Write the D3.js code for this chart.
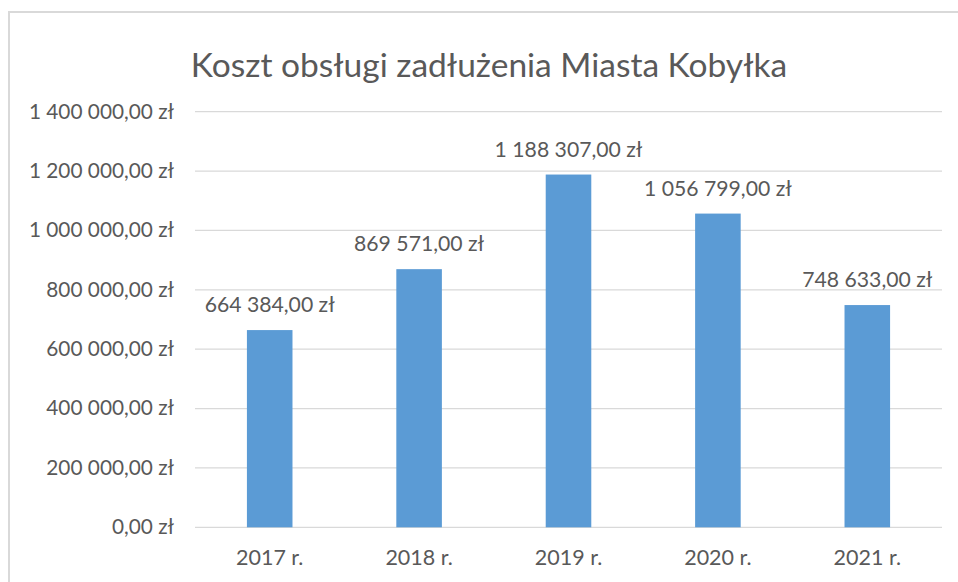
<!DOCTYPE html>
<html>
<head>
<meta charset="utf-8">
<script src="https://cdn.jsdelivr.net/npm/d3@7"></script>
<style>
  body { margin: 0; background: #fff; }
  text { font-family: Lato, "Open Sans", sans-serif; fill: #595959; }
</style>
</head>
<body>
<svg width="958" height="582"></svg>
<script>
// chart data
const years = ["2017 r.", "2018 r.", "2019 r.", "2020 r.", "2021 r."];
const costs = [664384, 869571, 1188307, 1056799, 748633];
const yTicks = [0, 200000, 400000, 600000, 800000, 1000000, 1200000, 1400000];
const title = "Koszt obsługi zadłużenia Miasta Kobyłka";

const barColor = "#5b9bd5";
const gridColor = "#d9d9d9";

const svg = d3.select("svg");

// chart frame (cut off on right and bottom like the screenshot)
svg.append("rect")
    .attr("x", 9)
    .attr("y", 12)
    .attr("width", 1000)
    .attr("height", 600)
    .attr("fill", "none")
    .attr("stroke", gridColor)
    .attr("stroke-width", 2);

const plotLeft = 195, plotRight = 942, plotTop = 111.7, plotBottom = 527.3;

const x = d3.scaleBand().domain(years).range([plotLeft, plotRight]).padding(0);
const y = d3.scaleLinear().domain([0, 1400000]).range([plotBottom, plotTop]);

// format "1 400 000,00 zł"
const fmt = v => d3.format(",.2f")(v).replace(/,/g, " ").replace(".", ",") + " zł";

svg.append("text")
    .attr("x", 489)
    .attr("y", 77)
    .attr("text-anchor", "middle")
    .attr("font-size", 33.5)
    .text(title);

// gridlines
svg.append("g")
    .selectAll("line")
    .data(yTicks)
    .join("line")
    .attr("x1", plotLeft)
    .attr("x2", plotRight)
    .attr("y1", d => y(d))
    .attr("y2", d => y(d))
    .attr("stroke", gridColor)
    .attr("stroke-width", 1.2);

// y tick labels
svg.append("g")
    .selectAll("text")
    .data(yTicks)
    .join("text")
    .attr("x", 174)
    .attr("y", d => y(d))
    .attr("dy", "0.33em")
    .attr("text-anchor", "end")
    .attr("font-size", 20.8)
    .text(fmt);

// bars
const barW = x.bandwidth() * 0.305;
svg.append("g")
    .selectAll("rect")
    .data(costs)
    .join("rect")
    .attr("x", (d, i) => x(years[i]) + x.bandwidth() / 2 - barW / 2)
    .attr("y", d => y(d))
    .attr("width", barW)
    .attr("height", d => y(0) - y(d))
    .attr("fill", barColor);

// value labels
svg.append("g")
    .selectAll("text")
    .data(costs)
    .join("text")
    .attr("x", (d, i) => x(years[i]) + x.bandwidth() / 2)
    .attr("y", d => y(d) - 18)
    .attr("text-anchor", "middle")
    .attr("font-size", 21.2)
    .text(fmt);

// category labels
svg.append("g")
    .selectAll("text")
    .data(years)
    .join("text")
    .attr("x", d => x(d) + x.bandwidth() / 2)
    .attr("y", 565)
    .attr("text-anchor", "middle")
    .attr("font-size", 21.5)
    .text(d => d);
</script>
</body>
</html>
